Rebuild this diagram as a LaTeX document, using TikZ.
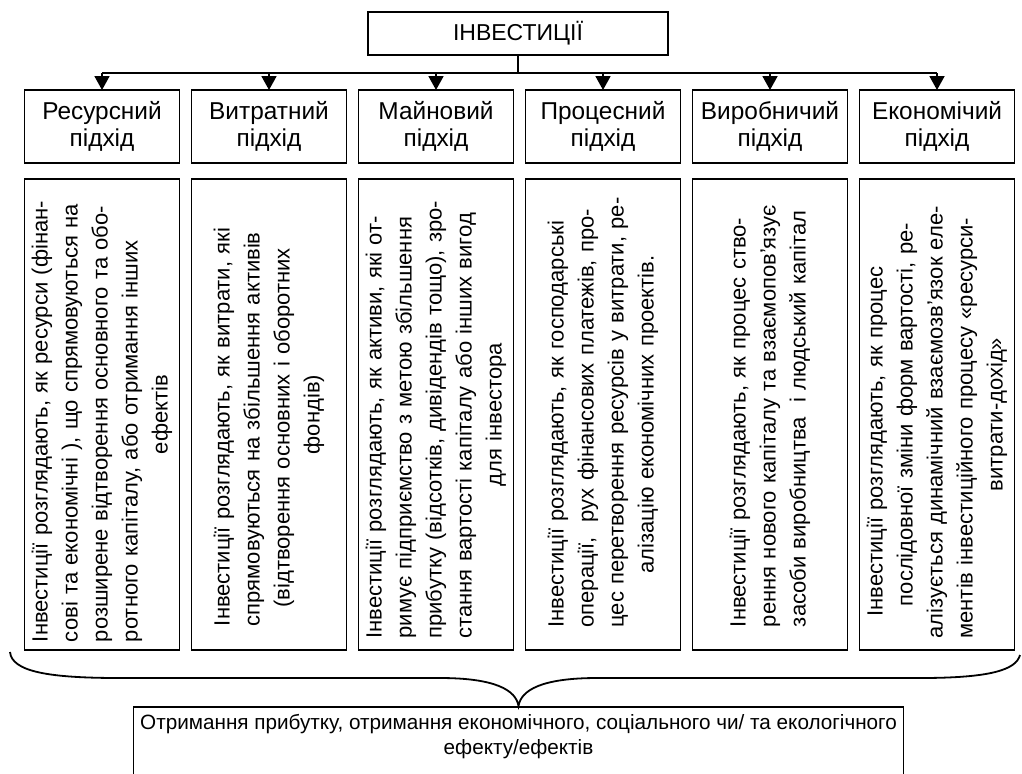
\documentclass[tikz,border=0pt]{standalone}
\usepackage{fontspec}
\setmainfont{Liberation Sans}
\usetikzlibrary{arrows.meta, positioning}
\newcommand{\jl}[2][\linewidth]{\makebox[#1][s]{#2}}

\begin{document}
\begin{tikzpicture}[x=0.5pt, y=-0.5pt, line width=0.9pt,
    box/.style={draw, align=center, inner sep=2pt, outer sep=0pt},
    head/.style={box, minimum width=77.5pt, minimum height=36.5pt, font=\fontsize{12.2}{13.5}\selectfont},
    body/.style={box, rotate=90, minimum width=235.5pt, minimum height=77.5pt, font=\fontsize{11}{15}\selectfont},
    arr/.style={-{Triangle[width=7.5pt, length=7pt]}}]
    \useasboundingbox (0,0) rectangle (1022,773);

    \node[head, minimum width=150pt, minimum height=21.5pt, font=\fontsize{11.5}{13.5}\selectfont] (inv) at (518,33.5) {ІНВЕСТИЦІЇ};
    \node[head] (h1) at (102,126.5) {Ресурсний\\підхід};
    \node[head, right=6pt of h1] (h2) {Витратний\\підхід};
    \node[head, right=6pt of h2] (h3) {Майновий\\підхід};
    \node[head, right=6pt of h3] (h4) {Процесний\\підхід};
    \node[head, right=6pt of h4] (h5) {Виробничий\\підхід};
    \node[head, right=6pt of h5] (h6) {Економічий\\підхід};

    \draw (inv.south) -- ++(0,18) coordinate (bus);
    \draw (h1.north |- bus) -- (h6.north |- bus);
    \foreach \n in {1,...,6}
        \draw[arr] (h\n.north |- bus) -- (h\n.north);

    \coordinate (mid) at (0,414.5);
    \node[body, text width=227.5pt] (b1) at (h1 |- mid) {%
        \jl{Інвестиції розглядають, як ресурси (фінан-}\\
        \jl{сові та економічні ), що спрямовуються на}\\
        \jl{розширене відтворення основного та обо-}\\
        \jl{ротного капіталу, або отримання інших}\\
        ефектів};
    \node[body, text width=211.5pt] (b2) at (h2 |- mid) {%
        \jl{Інвестиції розглядають, як витрати, які}\\
        \jl{спрямовуються на збільшення активів}\\
        \jl[193pt]{(відтворення основних і оборотних}\\
        фондів)};
    \node[body, text width=224pt] (b3) at (h3 |- mid) {%
        \jl{Інвестиції розглядають, як активи, які от-}\\
        \jl{римує підприємство з метою збільшення}\\
        \jl{прибутку (відсотків, дивідендів тощо), зро-}\\
        \jl{стання вартості капіталу або інших вигод}\\
        для інвестора};
    \node[body, text width=213pt] (b4) at (h4 |- mid) {%
        \jl{Інвестиції розглядають, як господарські}\\
        \jl{операції,\ \ рух фінансових платежів, про-}\\
        \jl{цес перетворення ресурсів у витрати, ре-}\\
        алізацію економічних проектів.};
    \node[body, text width=212.5pt] (b5) at (h5 |- mid) {%
        \jl{Інвестиції розглядають, як процес ство-}\\
        \jl{рення нового капіталу та взаємопов’язує}\\
        \jl{засоби виробництва\ \ і людський капітал}};
    \node[body, text width=224pt] (b6) at (h6 |- mid) {%
        \jl[202pt]{Інвестиції розглядають, як процес}\\
        послідовної зміни форм вартості, ре-\\
        \jl{алізується динамічний взаємозв’язок еле-}\\
        \jl{ментів інвестиційного процесу «ресурси-}\\
        витрати-дохід»};

    \node[draw, anchor=north, minimum width=384.5pt, align=center, inner ysep=3.5pt,
        text depth=30pt, font=\fontsize{10.35}{12.5}\selectfont] (res) at (518.5,706)
        {Отримання прибутку, отримання економічного, соціального чи/ та екологічного\\
        ефекту/ефектів};

    \coordinate (bl) at (10,652);
    \coordinate (br) at (1020,655);
    \draw (bl) .. controls (12,672) and (50,678) .. (120,678) -- (440,678)
        .. controls (495,678) and (516,690) .. (res.north)
        .. controls (521,690) and (542,678) .. (597,678) -- (920,678)
        .. controls (990,678) and (1016,670) .. (br);
\end{tikzpicture}
\end{document}
